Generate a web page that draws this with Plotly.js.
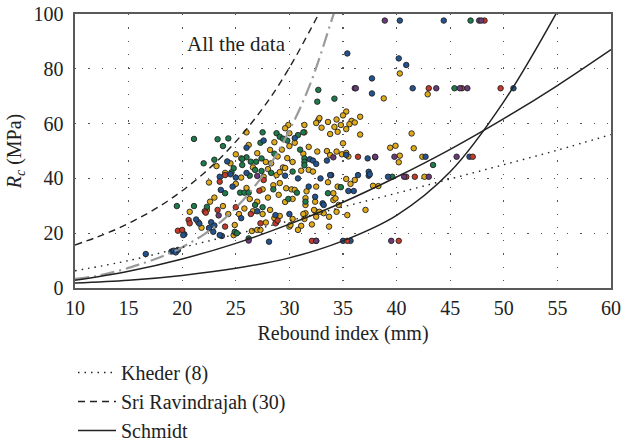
<!DOCTYPE html>
<html>
<head>
<meta charset="utf-8">
<script src="https://cdn.plot.ly/plotly-3.0.1.min.js"></script>
<style>html,body{margin:0;padding:0;background:#fff;}#chart{width:622px;height:443px;}</style>
</head>
<body>
<div id="chart"></div>
<script>
// ---- scatter data ----
const yellowX = [40.3,38.8,42.9,35.3,36.6,34.4,35.0,35.8,32.7,32.5,33.0,32.8,33.6,34.2,34.8,35.6,36.1,33.8,34.5,35.3,36.6,31.4,29.9,29.6,30.0,31.4,26.0,28.6,35.0,41.4,39.9,39.4,41.6,40.3,40.2,42.4,34.9,35.3,34.4,33.5,33.8,35.5,31.8,32.6,31.3,30.0,29.8,30.3,28.2,28.9,26.2,25.5,28.0,28.8,27.6,25.5,27.0,29.4,29.1,29.6,31.1,31.8,32.2,33.6,34.5,35.7,36.1,35.3,37.8,38.3,34.1,29.7,29.1,30.2,30.5,31.6,32.5,29.6,30.3,31.5,31.5,32.4,34.1,34.3,34.6,33.2,32.4,31.5,37.1,29.1,30.3,31.3,31.4,30.0,31.1,32.1,32.3,32.8,32.5,33.7,33.7,34.4,35.4,30.1,30.8,27.0,27.3,26.5,24.8,20.7,22.3,23.8,24.3,21.5,21.8,25.3,25.8,26.6,27.5,28.2,27.8,28.6,24.9,22.6,23.0,26.0,27.5,28.5,25.0,29.0,27.0,28.0,26.3,24.5,25.0,27.8,29.3,30.5,24.0,26.6,28.3,22.5,23.2,42.6];
const yellowY = [78.3,69.2,70.7,64.4,62.5,61.5,63.0,61.0,61.3,60.2,58.5,62.0,60.6,58.8,59.5,59.8,60.4,56.2,57.0,58.0,56.0,59.5,59.5,58.3,56.5,56.8,56.8,53.2,52.8,56.4,51.9,51.2,51.0,48.3,45.9,47.9,48.8,49.3,49.8,50.0,48.5,48.0,51.5,49.8,49.0,51.8,47.4,46.0,50.4,48.0,52.2,47.3,43.4,41.2,40.6,40.3,49.2,44.0,42.3,43.8,42.8,43.1,42.5,38.6,37.0,38.0,39.4,39.8,37.3,37.2,34.6,36.4,38.3,36.0,35.8,35.3,37.0,31.4,32.5,30.3,32.8,31.5,32.1,32.7,30.3,27.3,28.1,27.3,28.5,26.3,25.2,27.0,25.2,22.4,22.7,23.2,28.5,27.8,26.0,26.0,22.4,27.8,26.6,23.0,21.2,21.2,21.2,20.8,19.3,27.8,28.5,29.9,27.0,24.0,22.0,27.0,29.0,28.0,27.0,28.5,23.9,25.5,23.0,31.5,33.0,36.5,36.0,37.5,38.0,34.0,31.5,33.0,32.5,45.5,48.8,46.0,50.5,53.0,42.0,44.0,45.5,38.5,44.5,40.6];

const greenX = [32.7,32.6,34.2,45.4,46.9,21.1,23.3,24.3,23.8,27.5,28.8,27.3,29.1,30.8,29.4,31.3,28.6,26.0,25.6,26.4,26.9,27.4,25.6,26.8,27.4,28.3,24.8,24.6,26.3,31.4,31.4,31.4,31.0,30.3,30.7,33.6,34.8,29.9,31.5,43.4,39.6,38.0,25.4,25.8,26.2,24.0,19.5,21.1,22.3,24.9,25.1,26.2,27.5,26.8,28.5,22.0,23.0,29.8];
const greenY = [72.3,68.0,69.1,72.9,97.6,54.4,54.3,54.6,51.8,56.8,56.5,53.0,55.2,55.8,54.5,56.8,49.0,47.7,47.1,46.1,46.1,47.3,44.9,43.1,42.7,42.0,43.7,42.2,41.0,47.3,46.0,44.8,50.5,42.5,34.8,34.6,36.8,32.5,31.5,44.9,40.6,47.7,34.8,34.8,34.8,34.6,29.9,29.9,29.6,20.5,20.0,18.1,29.5,30.3,36.0,45.5,46.8,53.8];

const blueX = [40.3,44.4,35.4,40.2,40.9,37.7,37.7,41.5,50.9,37.3,42.7,46.8,36.4,37.4,37.4,33.9,39.2,37.5,35.0,35.7,32.5,30.0,27.6,26.0,35.3,31.9,32.2,32.5,33.5,30.5,32.9,33.8,35.5,36.0,31.8,33.1,33.2,32.4,23.5,24.5,25.0,24.7,23.6,22.5,22.7,23.0,21.6,21.3,20.2,20.1,22.9,23.7,23.5,28.1,19.0,19.2,19.4,19.6,16.6,25.5,27.0,28.7,26.0,24.2,29.6,30.8];
const blueY = [97.6,97.6,85.6,83.8,81.4,76.5,71.0,72.9,72.9,47.3,47.9,47.9,41.2,41.0,42.4,41.2,40.6,41.5,17.2,17.2,17.2,27.0,53.8,51.2,48.6,47.0,46.5,45.3,46.5,54.7,40.0,41.2,35.4,35.4,37.0,30.9,30.3,33.3,40.6,41.5,40.3,37.0,35.8,21.9,24.0,22.8,23.5,25.0,19.6,19.3,20.5,19.0,19.3,16.9,13.3,13.6,13.0,13.9,12.4,25.5,28.0,26.6,42.0,46.2,41.0,40.0];

const redX = [48.2,43.0,46.1,49.7,36.4,47.1,40.9,41.7,40.2,32.1,35.4,24.0,27.6,23.5,22.1,23.3,19.6,20.6,20.7,20.0,24.0,27.3,28.7,25.0,26.4,28.9,27.2,22.2];
const redY = [97.6,72.9,72.9,72.9,47.9,47.9,40.6,40.6,17.2,17.2,17.2,41.2,39.4,38.8,28.0,28.5,20.9,24.8,23.6,21.2,22.4,23.6,23.6,29.5,27.0,24.6,35.5,27.5];

const purpleX = [38.9,47.7,47.9,36.1,36.2,43.7,45.9,46.6,38.0,39.8,45.6,40.7,43.0,39.5,32.5,27.0,34.1,26.2,23.4];
const purpleY = [97.6,97.6,97.6,72.9,72.9,72.9,72.9,72.9,47.9,47.9,47.9,40.6,40.6,17.2,17.2,40.9,47.7,17.3,26.5];

// ---- curves ----
const khederX = [10,15,20,25,30,35,40,45,50,55,60];
const khederY = [6.3,10.0,14.8,19.6,24.5,29.6,34.6,39.8,45.0,50.3,56.0];

const sriX = [10,12,14,16,18,20,22,24,26,28,30,32,33];
const sriY = [15.7,18.5,21.7,25.6,30.1,35.5,41.8,49.2,58.0,68.2,80.4,94.6,102];

const schmidtX = [10,15,20,25,30,35,40,45,50,55,60];
const schmidtY = [2.8,6.1,10.6,16.3,23.3,31.3,40.5,50.6,61.8,73.9,87.0];

const schmidt2X = [10,15,20,25,30,35,40,45,50,55];
const schmidt2Y = [1.8,2.8,4.6,7.2,11.0,17.2,26.5,42.4,68.0,101];

const fitX = [10,12,14,16,18,20,22,24,26,28,30,32,34,34.3];
const fitY = [3.3,4.4,6.2,8.6,11.3,14.9,19.5,25.5,33.5,43.8,57.5,75.0,98.5,102];

const xTicks = [10,15,20,25,30,35,40,45,50,55,60];
const yTicks = [0,20,40,60,80,100];

const FONT = "'Liberation Serif', 'DejaVu Serif', 'Times New Roman', serif";
const FS = 20;

function pts(x, y, fill) {
  return {type:'scatter', mode:'markers', x:x, y:y, showlegend:false, hoverinfo:'skip',
    marker:{size:5.5, color:fill, line:{color:'#222', width:0.9}}};
}

const traces = [
  pts(yellowX, yellowY, '#e0a918'),
  pts(greenX, greenY, '#1d7a4b'),
  pts(blueX, blueY, '#22538f'),
  pts(redX, redY, '#c23b2a'),
  pts(purpleX, purpleY, '#6a3a78'),
  {type:'scatter', mode:'lines', x:fitX, y:fitY, line:{color:'#9a9a9a', width:2.2, dash:'14px,5px,2px,5px', shape:'spline'}, showlegend:false, hoverinfo:'skip'},
  {type:'scatter', mode:'lines', x:khederX, y:khederY, name:'Kheder (8)', line:{color:'#222', width:1.4, dash:'1.5px,5px', shape:'spline'}},
  {type:'scatter', mode:'lines', x:sriX, y:sriY, name:'Sri Ravindrajah (30)', line:{color:'#222', width:1.4, dash:'7px,5px', shape:'spline'}},
  {type:'scatter', mode:'lines', x:schmidtX, y:schmidtY, name:'Schmidt', line:{color:'#222', width:1.5, shape:'spline'}},
  {type:'scatter', mode:'lines', x:schmidt2X, y:schmidt2Y, showlegend:false, line:{color:'#222', width:1.5, shape:'spline'}, hoverinfo:'skip'}
];

const layout = {
  width:622, height:443,
  margin:{l:75, r:11, t:14, b:155, autoexpand:false},
  paper_bgcolor:'#fff', plot_bgcolor:'#fff',
  font:{family:FONT, size:FS, color:'#222'},
  showlegend:true,
  legend:{x:-2/536, xanchor:'left', y:-65/274, yanchor:'top',
    orientation:'v', itemwidth:38, tracegroupgap:0,
    font:{family:FONT, size:FS, color:'#222'}, bgcolor:'rgba(0,0,0,0)'},
  xaxis:{range:[10,60], tickvals:xTicks, ticktext:xTicks.map(String), ticks:'', showgrid:true,
    gridcolor:'#555', gridwidth:1.3, griddash:'1.3px,12px', zeroline:false,
    showline:true, linecolor:'#5a5a5a', linewidth:1.6, mirror:true,
    tickfont:{family:FONT, size:FS}, ticklabelstandoff:1,
    title:{text:'Rebound index (mm)', font:{family:FONT, size:FS}, standoff:8}},
  xaxis2:{range:[10,60], overlaying:'x', side:'top', showgrid:false, zeroline:false, showline:false,
    ticks:'inside', dtick:1, tick0:10, ticklen:3, tickcolor:'#555', showticklabels:false},
  yaxis:{range:[0,100], tickvals:yTicks, ticktext:yTicks.map(String), ticks:'', showgrid:true,
    gridcolor:'#555', gridwidth:1.3, griddash:'1.3px,12px', zeroline:false,
    showline:true, linecolor:'#5a5a5a', linewidth:1.6, mirror:true,
    tickfont:{family:FONT, size:FS}, ticklabelstandoff:6,
    title:{text:'<i>R</i><sub><i>c</i></sub> (MPa)', font:{family:FONT, size:FS}, standoff:6}},
  annotations:[{x:25.1, y:89, xref:'x', yref:'y', text:'All the data', showarrow:false,
    font:{family:FONT, size:FS+1, color:'#222'}}]
};

Plotly.newPlot('chart', traces, layout, {staticPlot:true, displayModeBar:false});
</script>
</body>
</html>
